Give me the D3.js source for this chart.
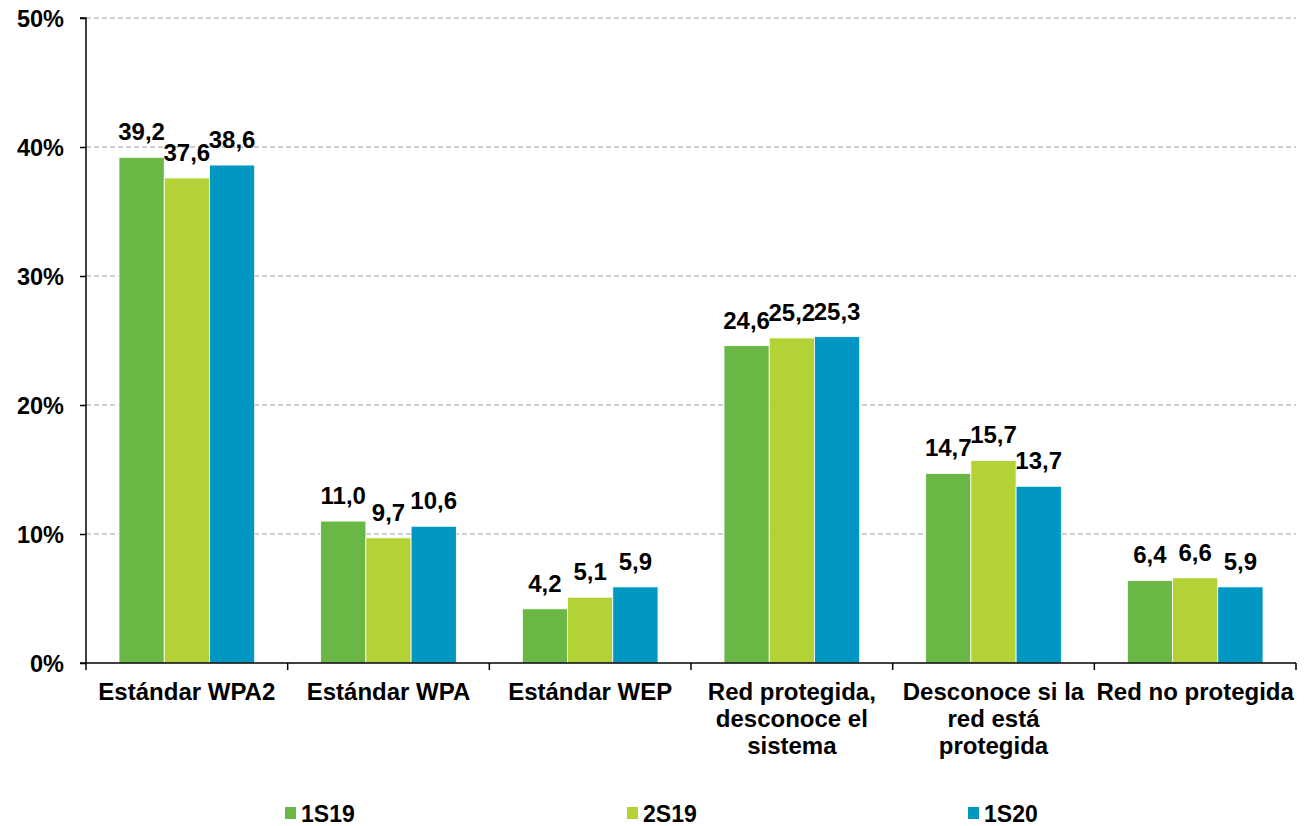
<!DOCTYPE html>
<html>
<head>
<meta charset="utf-8">
<script src="https://cdn.jsdelivr.net/npm/d3@7"></script>
<style>
  html, body { margin: 0; padding: 0; background: #fff; }
  svg { display: block; font-family: "Liberation Sans", Arial, sans-serif; font-weight: bold; }
</style>
</head>
<body>
<svg id="chart" width="1311" height="826"></svg>
<script>
const categories = ["Estándar WPA2", "Estándar WPA", "Estándar WEP", "Red protegida,\ndesconoce el\nsistema", "Desconoce si la\nred está\nprotegida", "Red no protegida"];
const seriesNames = ["1S19", "2S19", "1S20"];
const s1S19 = [39.2, 11.0, 4.2, 24.6, 14.7, 6.4];
const s2S19 = [37.6, 9.7, 5.1, 25.2, 15.7, 6.6];
const s1S20 = [38.6, 10.6, 5.9, 25.3, 13.7, 5.9];
const yTicks = [0, 10, 20, 30, 40, 50];
const colors = ["#6AB746", "#B3D236", "#0098C3"];

const series = [s1S19, s2S19, s1S20];
const svg = d3.select("#chart");
const mLeft = 86, mRight = 1296, mTop = 18, mBottom = 663;

const x0 = d3.scaleBand().domain(categories).range([mLeft, mRight]).paddingInner(0).paddingOuter(0);
const x1 = d3.scaleBand().domain(seriesNames).range([33, x0.bandwidth() - 33]).padding(0);
const y = d3.scaleLinear().domain([0, 50]).range([mBottom, mTop]);

// gridlines
svg.append("g").selectAll("line").data(yTicks.filter(d => d > 0)).join("line")
  .attr("x1", mLeft).attr("x2", mRight)
  .attr("y1", d => y(d)).attr("y2", d => y(d))
  .attr("stroke", "#bfbfbf").attr("stroke-width", 1.3).attr("stroke-dasharray", "5,3");

// bars
const groups = svg.append("g").selectAll("g").data(categories).join("g")
  .attr("transform", d => `translate(${x0(d)},0)`);
groups.each(function(cat, ci) {
  const g = d3.select(this);
  const vals = seriesNames.map((s, si) => ({ s, si, v: series[si][ci] }));
  g.selectAll("rect").data(vals).join("rect")
    .attr("x", d => x1(d.s)).attr("width", x1.bandwidth())
    .attr("y", d => y(d.v)).attr("height", d => y(0) - y(d.v))
    .attr("fill", d => colors[d.si])
    .attr("stroke", "#ffffff").attr("stroke-width", 0.8);
  g.selectAll("text").data(vals).join("text")
    .attr("x", d => x1(d.s) + x1.bandwidth() / 2)
    .attr("y", d => y(d.v) - 17)
    .attr("text-anchor", "middle")
    .attr("font-size", 24)
    .attr("fill", "#000")
    .text(d => d.v.toFixed(1).replace(".", ","));
});

// y axis
const yAxis = d3.axisLeft(y).tickValues(yTicks).tickSize(6).tickFormat(d => d + "%");
const gy = svg.append("g").attr("transform", `translate(${mLeft},0)`).call(yAxis);
gy.select(".domain").attr("stroke", "#000").attr("stroke-width", 1.5).attr("d", `M-6,${mTop}H0V${mBottom}H-6`);
gy.selectAll(".tick line").attr("stroke", "#000").attr("stroke-width", 1.5);
gy.selectAll(".tick text").attr("font-size", 23.5).attr("font-weight", "bold")
  .attr("font-family", "Liberation Sans, Arial, sans-serif").attr("fill", "#000").attr("x", -22).attr("dy", "0.36em");

// x axis
const gx = svg.append("g").attr("transform", `translate(0,${mBottom})`);
gx.append("line").attr("x1", mLeft).attr("x2", mRight).attr("y1", 0).attr("y2", 0)
  .attr("stroke", "#000").attr("stroke-width", 1.5);
const bounds = categories.map(c => x0(c)).concat([mRight]);
gx.selectAll("line.tk").data(bounds).join("line").attr("class", "tk")
  .attr("x1", d => d).attr("x2", d => d).attr("y1", 0).attr("y2", 7)
  .attr("stroke", "#000").attr("stroke-width", 1.5);
gx.selectAll("text").data(categories).join("text")
  .attr("x", d => x0(d) + x0.bandwidth() / 2)
  .attr("y", 37)
  .attr("text-anchor", "middle")
  .attr("font-size", 24)
  .attr("fill", "#000")
  .each(function(d) {
    const lines = d.split("\n");
    d3.select(this).selectAll("tspan").data(lines).join("tspan")
      .attr("x", x0(d) + x0.bandwidth() / 2)
      .attr("dy", (l, i) => i === 0 ? 0 : 27)
      .text(l => l);
  });

// legend
const legendX = [285, 627, 968];
const lg = svg.append("g").selectAll("g").data(seriesNames).join("g")
  .attr("transform", (d, i) => `translate(${legendX[i]},0)`);
lg.append("rect").attr("x", 0).attr("y", 807).attr("width", 11).attr("height", 12)
  .attr("fill", (d, i) => colors[i]);
lg.append("text").attr("x", 16).attr("y", 822).attr("font-size", 23).attr("fill", "#000").text(d => d);
</script>
</body>
</html>
